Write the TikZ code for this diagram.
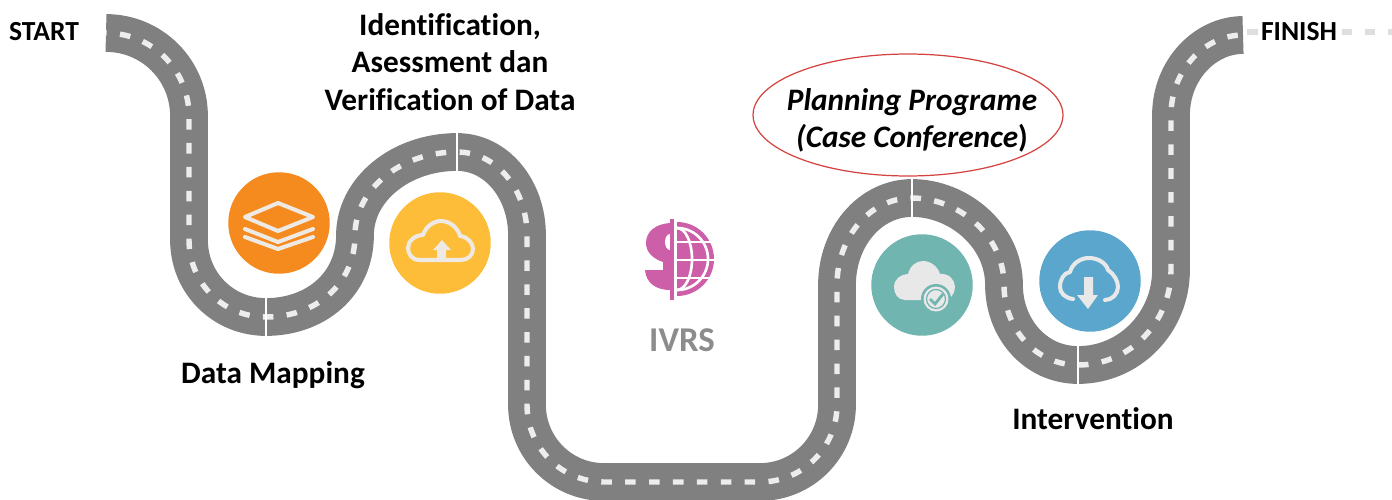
\documentclass[tikz,border=0pt]{standalone}
\usepackage{fontspec}
\setmainfont{Carlito}[Ligatures={TeX,NoCommon}]
\usetikzlibrary{shapes.geometric}
\definecolor{roadgrey}{HTML}{808080}
\definecolor{lane}{HTML}{EDEDED}
\definecolor{orangec}{HTML}{F58A1E}
\definecolor{yellowc}{HTML}{FDBD38}
\definecolor{tealc}{HTML}{70B5AF}
\definecolor{bluec}{HTML}{5AA6CD}
\definecolor{iconc}{HTML}{EFE9E3}
\definecolor{icongrey}{HTML}{E8E8E8}
\definecolor{pinkc}{HTML}{CD5FA9}
\definecolor{ivrsc}{HTML}{8C8C8C}
\definecolor{ringc}{HTML}{D4433F}
\tikzset{
  badge/.style={circle,inner sep=0pt,minimum size=2.03cm},
  lab/.style={font=\fontsize{17.8pt}{21pt}\selectfont\bfseries,text=black,inner sep=0pt,align=center},
  smalllab/.style={font=\fontsize{15.7pt}{19pt}\selectfont\bfseries,text=black,inner sep=0pt},
  roadbed/.style={draw=roadgrey,line width=21.5pt},
  lanemark/.style={draw=lane,line width=3.1pt,dash pattern=on 6pt off 7.6pt,dash phase=-8pt},
  joint/.style={draw=white,line width=1.4pt},
  iconline/.style={draw=iconc,line width=2.3pt,line join=round,line cap=round},
  finishdash/.style={draw=black!13,line width=3pt},
}
\newcommand{\roadpath}{(106,33) .. controls (152,33) and (189,70) .. (189,116) -- (189,240)
 .. controls (189,283) and (223,317) .. (266,317)
 .. controls (315,317) and (355,285) .. (355,235)
 .. controls (355,190) and (400,152) .. (457,152)
 .. controls (497,152) and (527,190) .. (527,235) -- (527,405)
 .. controls (527,447) and (561,482) .. (604,482) -- (760,482)
 .. controls (803,482) and (837,447) .. (837,405) -- (837,285)
 .. controls (837,237) and (870,198) .. (912,198)
 .. controls (958,198) and (1004,235) .. (1004,285)
 .. controls (1004,328) and (1035,365) .. (1078,365)
 .. controls (1130,365) and (1171,322) .. (1171,270) -- (1171,115)
 .. controls (1171,70) and (1205,35) .. (1243,35)}
\begin{document}
\begin{tikzpicture}[x=0.02cm,y=-0.02cm]
\useasboundingbox (0,0) rectangle (1392,500);
% road
\path[roadbed] \roadpath;
\path[lanemark] \roadpath;
\draw[joint] (266,296) -- (266,338);
\draw[joint] (457,130) -- (457,174);
\draw[joint] (912,178) -- (912,220);
\draw[joint] (1078,345) -- (1078,387);
% finish dashes
\coordinate (f1) at (1247,32); \coordinate (f2) at (1258,32);
\coordinate (f3) at (1342,32); \coordinate (f4) at (1352,32);
\coordinate (f5) at (1365,32); \coordinate (f6) at (1375,32);
\coordinate (f7) at (1388,32); \coordinate (f8) at (1392,32);
\draw[finishdash] (f1)--(f2) (f3)--(f4) (f5)--(f6) (f7)--(f8);
% badges
\node[badge,fill=orangec] (map) at (279,223) {};
\node[badge,fill=yellowc] (up) at (440,243) {};
\node[badge,fill=tealc] (chk) at (922,285) {};
\node[badge,fill=bluec] (down) at (1090,281) {};
% layers icon
\draw[iconline] (278,203) -- (313,217) -- (278,231) -- (245,217) -- cycle;
\draw[iconline] (245,229) -- (278,242) -- (313,229);
\draw[iconline] (245,237) -- (278,249) -- (313,237);
% upload cloud
\draw[iconline] (420,260) .. controls (411,260) and (408,253) .. (408,248)
  .. controls (408,241) and (415,235) .. (423,235)
  .. controls (426,226) and (434,221) .. (441,221)
  .. controls (450,221) and (458,228) .. (460,236)
  .. controls (468,237) and (473,243) .. (473,249)
  .. controls (473,255) and (468,260) .. (461,260) -- cycle;
\fill[iconc] (442,240) -- (451,250) -- (446,250) -- (446,260) -- (437,260) -- (437,250) -- (433,250) -- cycle;
% check cloud
\fill[icongrey] (905,300) .. controls (898,300) and (894,294) .. (894,287)
  .. controls (894,279) and (901,274) .. (908,274)
  .. controls (910,266) and (916,261) .. (923,261)
  .. controls (931,261) and (938,267) .. (940,274)
  .. controls (949,273) and (955,280) .. (955,287)
  .. controls (955,294) and (950,300) .. (944,300) -- cycle;
\fill[tealc] (936,299) circle[radius=15];
\fill[icongrey] (936,299) circle[radius=12.5];
\draw[tealc,line width=0.7pt] (936,299) circle[radius=9.5];
\draw[tealc,line width=1.6pt] (930,299) -- (935,304) -- (943,294);
% download cloud
\draw[iconline,draw=icongrey] (1073,299) .. controls (1065,298) and (1060,293) .. (1060,287)
  .. controls (1060,279) and (1064,273) .. (1070,272)
  .. controls (1072,264) and (1080,258) .. (1089,258)
  .. controls (1098,258) and (1106,263) .. (1108,270)
  .. controls (1114,274) and (1118,281) .. (1118,287)
  .. controls (1118,294) and (1112,300) .. (1105,300);
\fill[icongrey] (1084,277) -- (1093,277) -- (1093,295) -- (1098,295) -- (1088,309) -- (1077,295) -- (1084,295) -- cycle;
% IVRS symbol
\begin{scope}
\clip (677,219) rectangle (716,300);
\fill[pinkc] (677,259) circle[radius=37];
\draw[white,line width=1.5pt] (677,259) circle[radius=31];
\draw[white,line width=1.5pt] (677,259) ellipse[x radius=15,y radius=31];
\draw[white,line width=1.5pt] (677,242) -- (716,242) (677,260) -- (716,260) (677,278) -- (716,278);
\end{scope}
\fill[pinkc] (670,223) .. controls (655,224) and (646,232) .. (646,243)
  .. controls (646,253) and (654,259) .. (663,262) -- (663,270) -- (645,270)
  .. controls (646,283) and (656,290) .. (670,290) -- cycle;
\fill[white] (670,242) ellipse[x radius=5,y radius=8];
\fill[pinkc] (670,219) rectangle (673.5,300);
% labels
\node[smalllab] (start) at (44,32) {START};
\node[smalllab] (finish) at (1299,32) {FINISH};
\node[lab] (id1) at (450,27) {Identification,};
\node[lab] (id2) at (450,62) {Asessment dan};
\node[lab] (id3) at (450,100) {Verification of Data};
\node[lab] (dm) at (273,375) {Data Mapping};
\node[lab] (iv) at (1093,419) {Intervention};
\node[lab,font=\fontsize{19.8pt}{23pt}\selectfont\bfseries,text=ivrsc] (ivrs) at (682,340) {IVRS};
\node[lab,font=\fontsize{17.8pt}{21pt}\selectfont\bfseries\itshape] (pl1) at (912,102) {Planning Programe};
\node[lab,font=\fontsize{17.8pt}{21pt}\selectfont\bfseries\itshape] (pl2) at (912,138) {(Case Conference{\upshape)}};
\node[ellipse,draw=ringc,line width=0.7pt,minimum width=6.2cm,minimum height=2.44cm,inner sep=0pt] (ring) at (908,115) {};
\end{tikzpicture}
\end{document}
